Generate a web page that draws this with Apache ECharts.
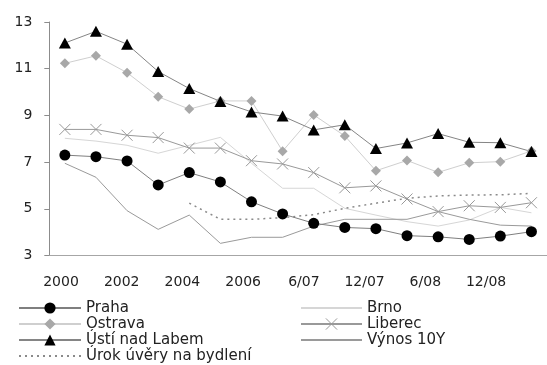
<!DOCTYPE html>
<html>
<head>
<meta charset="utf-8">
<script src="https://cdn.jsdelivr.net/npm/echarts@6/dist/echarts.min.js"></script>
<style>
  html, body { margin: 0; padding: 0; background: #fff; }
  #chart { width: 547px; height: 365px; }
</style>
</head>
<body>
<div id="chart"></div>
<script>
// Periods: yearly to 2006, then quarterly
const categories = ['2000', '2001', '2002', '2003', '2004', '2005', '2006', '3/07',
  '6/07', '9/07', '12/07', '3/08', '6/08', '9/08', '12/08', '3/09'];

const yTicks = { min: 3, max: 13, step: 2 };

// Yields by city (%)
const praha   = [7.3, 7.23, 7.05, 6.02, 6.55, 6.15, 5.3, 4.78, 4.38, 4.2, 4.15, 3.85, 3.8, 3.69, 3.83, 4.02];
const brno    = [8.02, 7.9, 7.72, 7.38, 7.72, 8.06, 6.95, 5.88, 5.88, 5.02, 4.73, 4.45, 4.26, 4.52, 5.06, 4.83];
const ostrava = [11.23, 11.55, 10.83, 9.8, 9.27, 9.62, 9.62, 7.47, 9.02, 8.12, 6.63, 7.07, 6.56, 6.97, 7.02, 7.48];
const liberec = [8.4, 8.4, 8.15, 8.05, 7.6, 7.6, 7.06, 6.92, 6.55, 5.9, 5.98, 5.42, 4.88, 5.13, 5.06, 5.26];
const usti    = [12.1, 12.6, 12.05, 10.88, 10.15, 9.6, 9.15, 8.97, 8.38, 8.6, 7.58, 7.82, 8.22, 7.85, 7.83, 7.45];
const vynos10y = [6.95, 6.35, 4.92, 4.12, 4.73, 3.52, 3.78, 3.78, 4.26, 4.55, 4.55, 4.55, 4.88, 4.55, 4.3, 4.26];
const urok    = [null, null, null, null, 5.24, 4.55, 4.55, 4.62, 4.75, 5.02, 5.24, 5.45, 5.55, 5.59, 5.6, 5.66];

const FONT = 'DejaVu Sans';
const TEXT = '#222';
const X_MARK = 'path://M0,0L10,10M10,0L0,10';

const chart = echarts.init(document.getElementById('chart'), null, { renderer: 'canvas' });

const noIcon = { color: 'rgba(0,0,0,0)', borderWidth: 0 };

function lineSeries(name, data, lineColor, extra) {
  return Object.assign({
    name: name,
    type: 'line',
    data: data,
    xAxisIndex: 0,
    yAxisIndex: 0,
    showAllSymbol: true,
    symbol: 'none',
    lineStyle: { color: lineColor, width: 1 },
    itemStyle: { color: lineColor },
    emphasis: { disabled: true },
    connectNulls: false
  }, extra || {});
}

chart.setOption({
  animation: false,
  backgroundColor: '#fff',
  grid: [
    { left: 49.3, top: 22, width: 506.7, height: 233.5 },
    // label band for the period axis
    { left: 45.8, top: 22, width: 485.8, height: 233.5 }
  ],
  xAxis: [
    {
      type: 'category',
      gridIndex: 0,
      data: categories,
      boundaryGap: true,
      axisLine: { lineStyle: { color: '#a6a6a6', width: 1 } },
      axisTick: { show: false },
      axisLabel: { show: false },
      splitLine: { show: false }
    },
    {
      type: 'category',
      gridIndex: 1,
      data: categories,
      boundaryGap: true,
      axisLine: { show: false },
      axisTick: { show: false },
      splitLine: { show: false },
      axisLabel: {
        interval: 1,
        margin: 20,
        fontFamily: FONT,
        fontSize: 14,
        color: TEXT
      }
    }
  ],
  yAxis: [
    {
      type: 'value',
      gridIndex: 0,
      min: yTicks.min,
      max: yTicks.max,
      interval: yTicks.step,
      axisLine: { show: true, lineStyle: { color: '#8c8c8c', width: 1 } },
      axisTick: { show: true, length: 5, lineStyle: { color: '#8c8c8c' } },
      splitLine: { show: false },
      axisLabel: {
        margin: 17,
        fontFamily: FONT,
        fontSize: 14,
        color: TEXT
      }
    },
    { type: 'value', gridIndex: 1, min: yTicks.min, max: yTicks.max, show: false }
  ],
  legend: [
    {
      orient: 'vertical',
      left: 18,
      top: 300,
      padding: 0,
      itemGap: 0,
      itemWidth: 62,
      itemHeight: 14,
      textStyle: { fontFamily: FONT, fontSize: 15, lineHeight: 16, color: TEXT },
      selectedMode: false,
      data: [
        { name: 'Praha' },
        { name: 'Ostrava' },
        { name: 'Ústí nad Labem' },
        { name: 'Úrok úvěry na bydlení', itemStyle: noIcon }
      ]
    },
    {
      orient: 'vertical',
      left: 300,
      top: 300,
      padding: 0,
      itemGap: 0,
      itemWidth: 61,
      itemHeight: 14,
      textStyle: { fontFamily: FONT, fontSize: 15, lineHeight: 16, color: TEXT },
      selectedMode: false,
      data: [
        { name: 'Brno', itemStyle: noIcon },
        { name: 'Liberec', itemStyle: { color: 'rgba(0,0,0,0)', borderColor: '#999', borderWidth: 1 } },
        { name: 'Výnos 10Y', itemStyle: noIcon }
      ]
    }
  ],
  series: [
    lineSeries('Brno', brno, '#d6d6d6'),
    lineSeries('Výnos 10Y', vynos10y, '#9a9a9a'),
    lineSeries('Úrok úvěry na bydlení', urok, '#8a8a8a', {
      lineStyle: { color: '#8a8a8a', width: 1.5, type: [2, 4] }
    }),
    lineSeries('Liberec', liberec, '#999999', {
      symbol: X_MARK,
      symbolSize: 11,
      itemStyle: { color: 'rgba(0,0,0,0)', borderColor: '#999999', borderWidth: 1 }
    }),
    lineSeries('Ostrava', ostrava, '#cfcfcf', {
      symbol: 'diamond',
      symbolSize: 10,
      itemStyle: { color: '#a8a8a8' }
    }),
    lineSeries('Ústí nad Labem', usti, '#858585', {
      symbol: 'triangle',
      symbolSize: [12, 11],
      itemStyle: { color: '#000' }
    }),
    lineSeries('Praha', praha, '#7f7f7f', {
      symbol: 'circle',
      symbolSize: 11,
      itemStyle: { color: '#000' }
    })
  ]
});
</script>
</body>
</html>
